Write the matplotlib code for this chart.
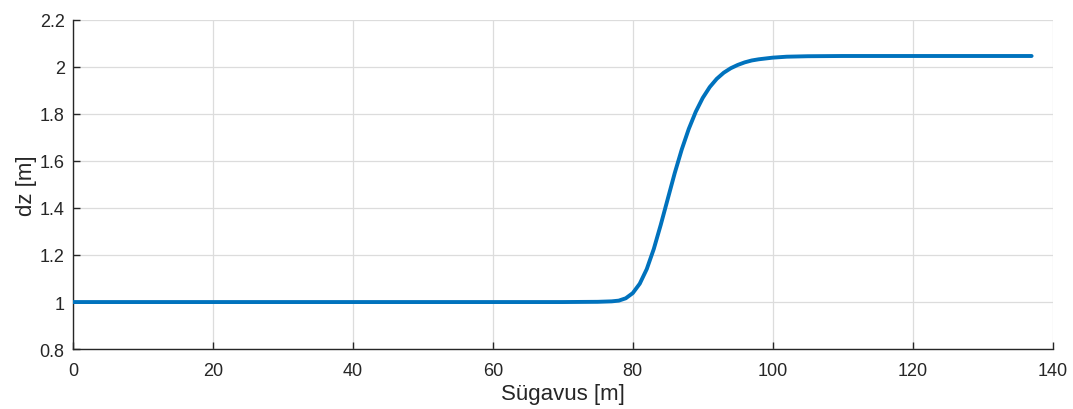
import matplotlib
matplotlib.use("Agg")
import matplotlib.pyplot as plt

# depth [m] and dz [m]
depth = [0, 20, 40, 60, 70, 75, 77, 78, 79, 80, 81, 82, 83, 84, 85, 86, 87,
         88, 89, 90, 91, 92, 93, 94, 95, 96, 97, 98, 100, 102, 105, 110, 120, 137]
dz = [1.0, 1.0, 1.0, 1.0, 1.0, 1.001, 1.003, 1.006, 1.016, 1.038, 1.078, 1.14,
      1.225, 1.328, 1.438, 1.548, 1.648, 1.735, 1.808, 1.867, 1.913, 1.948,
      1.974, 1.993, 2.007, 2.018, 2.026, 2.031, 2.038, 2.042, 2.044, 2.045,
      2.045, 2.045]

x_ticks = [0, 20, 40, 60, 80, 100, 120, 140]
y_ticks = [0.8, 1.0, 1.2, 1.4, 1.6, 1.8, 2.0, 2.2]
y_ticklabels = ["0.8", "1", "1.2", "1.4", "1.6", "1.8", "2", "2.2"]

plt.rcParams["font.family"] = ["Liberation Sans", "DejaVu Sans"]
text_color = "#262626"

fig = plt.figure(figsize=(10.73, 4.10), dpi=100)
ax = fig.add_axes([0.068, 0.146, 0.913, 0.804])

ax.plot(depth, dz, color="#0072BD", linewidth=2.8, solid_capstyle="round",
        solid_joinstyle="round", zorder=3)

ax.set_xlim(0, 140)
ax.set_ylim(0.8, 2.2)
ax.set_xticks(x_ticks)
ax.set_yticks(y_ticks)
ax.set_yticklabels(y_ticklabels)
ax.grid(True, color="#dcdcdc", linewidth=0.9)
ax.set_axisbelow(True)

for side in ("top", "right"):
    ax.spines[side].set_visible(False)
for side in ("left", "bottom"):
    ax.spines[side].set_color(text_color)
    ax.spines[side].set_linewidth(1.0)

ax.tick_params(direction="in", length=5, width=1.0, colors=text_color,
               labelsize=13)
ax.tick_params(axis="x", pad=9)
ax.tick_params(axis="y", pad=6)
ax.set_xlabel("Sügavus [m]", fontsize=16, color=text_color, labelpad=3)
ax.set_ylabel("dz [m]", fontsize=16, color=text_color, labelpad=2)

fig.savefig("out.png", dpi=100)
